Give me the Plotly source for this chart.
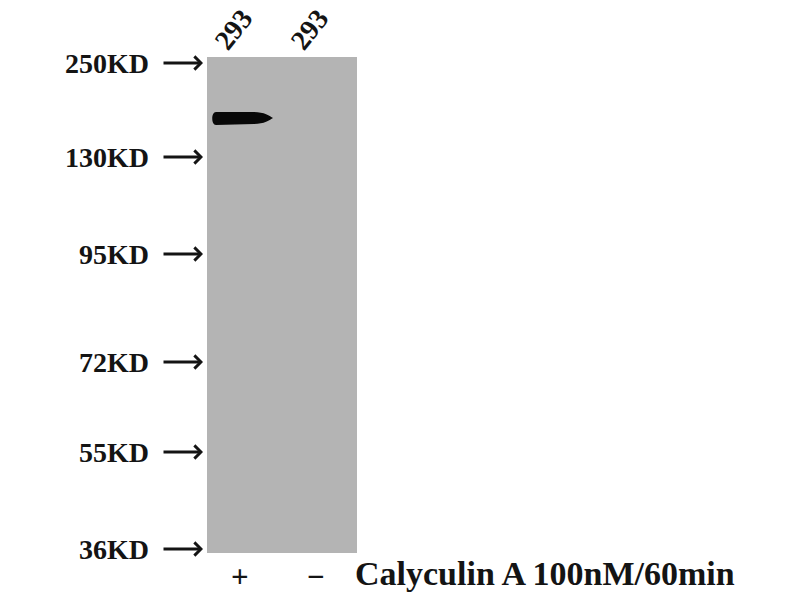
import plotly.graph_objects as go

# --- Data read off the blot ---
# molecular weight markers and the row (px from top) where each one ran
marker_labels = ["250KD", "130KD", "95KD", "72KD", "55KD", "36KD"]
marker_rows = [63, 157, 254, 362, 452, 549]

# lanes: sample name, treatment sign, centre column of the lane
lane_names = ["293", "293"]
lane_signs = ["+", "\u2212"]
lane_centres = [242, 318]

# band signal per lane (1 = strong band, 0 = nothing) and the row it sits at
band_intensity = [1, 0]
band_row = 118

treatment = "Calyculin A 100nM/60min"

FONT = "Liberation Serif"
INK = "#141414"
BLOT_GREY = "#b4b4b4"

fig = go.Figure()

# membrane
fig.add_shape(type="rect", x0=207, x1=357, y0=57, y1=553,
              fillcolor=BLOT_GREY, line_width=0, layer="below")


def band_path(c, r):
    # rounded left end, tapering off to the right
    left, right = c - 30, c + 31
    return (f"M {left + 4},{r - 6} L {c + 12},{r - 6} "
            f"C {c + 22},{r - 6} {right - 3},{r - 2} {right},{r} "
            f"C {right - 3},{r + 2} {c + 22},{r + 6} {c + 12},{r + 6} "
            f"L {left + 4},{r + 7} "
            f"C {left - 1},{r + 7} {left - 1},{r - 6} {left + 4},{r - 6} Z")


# bands
for centre, level in zip(lane_centres, band_intensity):
    if level <= 0:
        continue
    fig.add_shape(type="path", path=band_path(centre, band_row),
                  fillcolor="#080808", opacity=level, line_width=0)

# marker labels and arrows
for label, row in zip(marker_labels, marker_rows):
    fig.add_annotation(x=151, y=row, text=f"<b>{label}</b>", showarrow=False,
                       xanchor="right", yanchor="middle",
                       font=dict(family=FONT, size=28, color=INK))
    fig.add_annotation(x=203, y=row, ax=162, ay=row, axref="x", ayref="y",
                       text="", showarrow=True, arrowhead=4, arrowsize=0.85,
                       arrowwidth=3, arrowcolor=INK)

# lane names (rotated) and treatment signs
for name, sign, centre in zip(lane_names, lane_signs, lane_centres):
    fig.add_annotation(x=centre - 9, y=29, text=f"<b>{name}</b>", showarrow=False,
                       textangle=-52, xanchor="center", yanchor="middle",
                       font=dict(family=FONT, size=28, color=INK))
    fig.add_annotation(x=centre - 2, y=576, text=f"<b>{sign}</b>", showarrow=False,
                       xanchor="center", yanchor="middle",
                       font=dict(family=FONT, size=31, color=INK))

fig.add_annotation(x=353, y=573, text=f"<b>{treatment}</b>", showarrow=False,
                   xanchor="left", yanchor="middle",
                   font=dict(family=FONT, size=34, color=INK))

fig.update_xaxes(range=[0, 800], visible=False, fixedrange=True)
fig.update_yaxes(range=[600, 0], visible=False, fixedrange=True)
fig.update_layout(width=800, height=600, margin=dict(l=0, r=0, t=0, b=0),
                  paper_bgcolor="white", plot_bgcolor="white")

# drop the browser's default body margin so the figure sits at the page corner
fig.write_html("out.html", config={"displayModeBar": False},
               post_script="document.body.style.margin='0';")
